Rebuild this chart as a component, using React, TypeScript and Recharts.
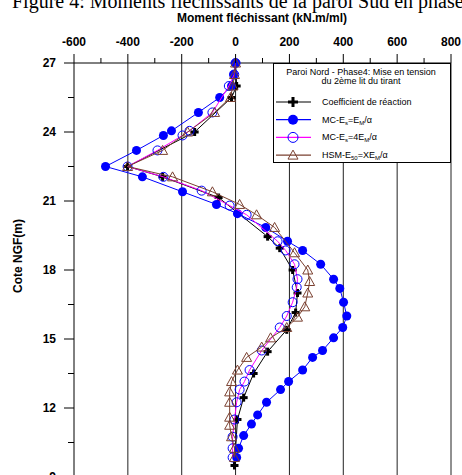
import { Legend, ReferenceLine, Scatter, ScatterChart, XAxis, YAxis } from "recharts";

// axis ticks (minor every 100 / 1.5 m, labelled every 200 / 3 m)
const xTicks = [-600, -500, -400, -300, -200, -100, 0, 100, 200, 300, 400, 500, 600, 700, 800];
const yTicks = [9, 10.5, 12, 13.5, 15, 16.5, 18, 19.5, 21, 22.5, 24, 25.5, 27];
const gridX = [-400, -200, 0, 200, 400, 600, 800];

// moment (kN.m/ml) vs elevation (m NGF)
const coeffReaction = [
  { m: 0, z: 27 }, { m: 4, z: 26 }, { m: -15, z: 25.5 }, { m: -152, z: 24.0 },
  { m: -401, z: 22.5 }, { m: -271, z: 22.05 }, { m: -63, z: 21.15 }, { m: 119, z: 19.45 },
  { m: 164, z: 18.95 }, { m: 212, z: 18.0 }, { m: 230, z: 17.0 }, { m: 223, z: 16.15 },
  { m: 190, z: 15.4 }, { m: 119, z: 14.45 }, { m: 67, z: 13.5 }, { m: 30, z: 12.45 },
  { m: 7, z: 11.5 }, { m: -4, z: 9.5 },
];

const mcEm = [
  { m: 0, z: 27 }, { m: -7, z: 26.5 }, { m: -15, z: 26.0 }, { m: -59, z: 25.5 },
  { m: -138, z: 24.85 }, { m: -238, z: 24.05 }, { m: -268, z: 23.85 }, { m: -368, z: 23.2 },
  { m: -483, z: 22.5 }, { m: -346, z: 22.05 }, { m: -197, z: 21.4 }, { m: -71, z: 20.85 },
  { m: 7, z: 20.45 }, { m: 112, z: 19.85 }, { m: 193, z: 19.25 }, { m: 249, z: 18.85 },
  { m: 316, z: 18.25 }, { m: 364, z: 17.6 }, { m: 387, z: 17.2 }, { m: 401, z: 16.6 },
  { m: 413, z: 16.0 }, { m: 398, z: 15.5 }, { m: 364, z: 15.05 }, { m: 323, z: 14.5 },
  { m: 286, z: 14.2 }, { m: 249, z: 13.65 }, { m: 197, z: 13.15 }, { m: 167, z: 12.8 },
  { m: 115, z: 12.25 }, { m: 82, z: 11.7 }, { m: 59, z: 11.3 }, { m: 30, z: 10.8 },
  { m: 11, z: 10.25 }, { m: 4, z: 9.85 },
];

const mc4Em = [
  { m: 0, z: 27 }, { m: -5, z: 26.5 }, { m: -25, z: 26.0 }, { m: -86, z: 24.85 },
  { m: -171, z: 24.05 }, { m: -197, z: 23.85 }, { m: -290, z: 23.2 }, { m: -401, z: 22.5 },
  { m: -268, z: 22.05 }, { m: -126, z: 21.45 }, { m: -22, z: 20.8 }, { m: 41, z: 20.4 },
  { m: 156, z: 19.25 }, { m: 186, z: 18.85 }, { m: 219, z: 18.25 }, { m: 230, z: 17.6 },
  { m: 227, z: 17.25 }, { m: 212, z: 16.6 }, { m: 190, z: 16.0 }, { m: 164, z: 15.5 },
  { m: 97, z: 14.5 }, { m: 52, z: 13.65 }, { m: 33, z: 13.15 }, { m: 15, z: 12.8 },
  { m: 4, z: 12.25 }, { m: -4, z: 11.5 }, { m: -11, z: 10.75 }, { m: -11, z: 10.25 },
  { m: -11, z: 9.85 },
];

const hsm = [
  { m: 0, z: 27 }, { m: -4, z: 26.5 }, { m: -10, z: 26.0 }, { m: -19, z: 25.5 },
  { m: -78, z: 24.85 }, { m: -178, z: 24.0 }, { m: -271, z: 23.2 }, { m: -401, z: 22.5 },
  { m: -234, z: 22.05 }, { m: -86, z: 21.4 }, { m: 15, z: 20.85 }, { m: 78, z: 20.4 },
  { m: 145, z: 19.85 }, { m: 219, z: 18.75 }, { m: 268, z: 18.0 }, { m: 275, z: 17.5 },
  { m: 268, z: 17.0 }, { m: 257, z: 16.4 }, { m: 230, z: 15.95 }, { m: 190, z: 15.5 },
  { m: 130, z: 15.05 }, { m: 97, z: 14.65 }, { m: 41, z: 14.2 }, { m: 7, z: 13.65 },
  { m: -15, z: 13.15 }, { m: -22, z: 12.7 }, { m: -22, z: 12.25 }, { m: -22, z: 11.6 },
  { m: -22, z: 11.25 }, { m: -15, z: 10.75 }, { m: -4, z: 10.25 }, { m: -4, z: 9.85 },
];

const BLUE = "#0000ff";
const MAGENTA = "#ff00ff";
const BROWN = "#7a4030";
const FONT = '"Liberation Sans", Arial, sans-serif';

const X_TICK_SIZE = 9;
const X_TICK_MARGIN = 4;
const Y_TICK_SIZE = 10;
const Y_TICK_MARGIN = 8;

function XTick(props: any) {
  const { x, y, payload } = props;
  const axisY = y + X_TICK_SIZE + X_TICK_MARGIN;
  const major = payload.value % 200 === 0;
  return (
    <g>
      <line x1={x} x2={x} y1={axisY} y2={axisY - (major ? X_TICK_SIZE : 5)} stroke="#000" />
      {major && (
        <text x={x} y={axisY - 17} textAnchor="middle" fontSize={12} fontWeight="bold" fontFamily={FONT} fill="#000">
          {payload.value}
        </text>
      )}
    </g>
  );
}

function YTick(props: any) {
  const { x, y, payload } = props;
  const axisX = x + Y_TICK_SIZE + Y_TICK_MARGIN;
  const major = payload.value % 3 === 0;
  return (
    <g>
      <line x1={axisX} x2={axisX - (major ? Y_TICK_SIZE : 6)} y1={y} y2={y} stroke="#000" />
      {major && (
        <text x={x} y={y + 4} textAnchor="end" fontSize={12} fontWeight="bold" fontFamily={FONT} fill="#000">
          {payload.value}
        </text>
      )}
    </g>
  );
}

const Plus = ({ cx, cy, s = 4 }: any) => (
  <g fill="#000">
    <rect x={cx - s} y={cy - 1.5} width={s * 2} height={3} />
    <rect x={cx - 1.5} y={cy - s} width={3} height={s * 2} />
  </g>
);
const Dot = ({ cx, cy, r = 4.5 }: any) => <circle cx={cx} cy={cy} r={r} fill={BLUE} />;
const Ring = ({ cx, cy, r = 4.5 }: any) => (
  <circle cx={cx} cy={cy} r={r} fill="none" stroke={BLUE} strokeWidth={1} />
);
const Tri = ({ cx, cy, s = 5 }: any) => (
  <polygon
    points={`${cx},${cy - s} ${cx - s},${cy + s * 0.8} ${cx + s},${cy + s * 0.8}`}
    fill="none"
    stroke={BROWN}
    strokeWidth={1}
  />
);

const legendRows = [
  { color: "#000", Mark: Plus, label: [["Coefficient de réaction", false]] },
  { color: BLUE, Mark: Dot, label: [["MC-E", false], ["s", true], ["=E", false], ["M", true], ["/α", false]] },
  { color: MAGENTA, Mark: Ring, label: [["MC-E", false], ["s", true], ["=4E", false], ["M", true], ["/α", false]] },
  { color: BROWN, Mark: Tri, label: [["HSM-E", false], ["50", true], ["=XE", false], ["M", true], ["/α", false]] },
];

function LegendBox() {
  return (
    <svg width={178} height={100} style={{ display: "block" }}>
      <rect x={0.5} y={0.5} width={177} height={99} fill="#fff" stroke="#000" />
      <text x={88} y={12} textAnchor="middle" fontSize={9} fontFamily={FONT} fill="#000">
        Paroi Nord - Phase4: Mise en tension
      </text>
      <text x={88} y={21} textAnchor="middle" fontSize={9} fontFamily={FONT} fill="#000">
        du 2ème lit du tirant
      </text>
      {legendRows.map((row, i) => {
        const cy = 39 + i * 17.7;
        return (
          <g key={i}>
            <line x1={3} x2={38} y1={cy} y2={cy} stroke={row.color} strokeWidth={1.2} />
            <row.Mark cx={20} cy={cy} s={5} r={5} />
            <text x={49} y={cy + 3} fontSize={9} fontFamily={FONT} fill="#000">
              {row.label.map(([t, sub], j) => (
                <tspan key={j} fontSize={sub ? 6 : 9} dy={j === 0 ? 0 : sub ? 2 : -2}>
                  {t as string}
                </tspan>
              ))}
            </text>
          </g>
        );
      })}
    </svg>
  );
}

export default function App() {
  return (
    <div
      style={{
        position: "absolute",
        left: 0,
        top: 0,
        width: 462,
        height: 475,
        overflow: "hidden",
        background: "#fff",
      }}
    >
      <div
        style={{
          position: "absolute",
          left: 12,
          top: -9,
          fontFamily: '"Liberation Serif", "Times New Roman", serif',
          fontSize: 20,
          lineHeight: "20px",
          whiteSpace: "nowrap",
          color: "#000",
        }}
      >
        Figure 4: Moments fléchissants de la paroi Sud en phase
      </div>
      <div
        style={{
          position: "absolute",
          left: 262,
          top: 11,
          transform: "translateX(-50%)",
          fontFamily: FONT,
          fontSize: 12,
          fontWeight: "bold",
          whiteSpace: "nowrap",
          lineHeight: "14px",
        }}
      >
        Moment fléchissant (kN.m/ml)
      </div>
      <div
        style={{
          position: "absolute",
          left: 18,
          top: 256,
          transform: "translate(-50%, -50%) rotate(-90deg)",
          fontFamily: FONT,
          fontSize: 12,
          fontWeight: "bold",
          whiteSpace: "nowrap",
          lineHeight: "14px",
        }}
      >
        Cote NGF(m)
      </div>
      <div style={{ position: "absolute", left: 0, top: 0 }}>
        <ScatterChart width={462} height={490} margin={{ top: 33, right: 11, bottom: 13, left: 0 }}>
          <XAxis
            type="number"
            dataKey="m"
            orientation="top"
            domain={[-600, 800]}
            ticks={xTicks}
            interval={0}
            height={30}
            tickSize={X_TICK_SIZE}
            tickMargin={X_TICK_MARGIN}
            tickLine={false}
            tick={<XTick />}
            axisLine={{ stroke: "#000" }}
          />
          <YAxis
            type="number"
            dataKey="z"
            domain={[9, 27]}
            ticks={yTicks}
            interval={0}
            width={74}
            tickSize={Y_TICK_SIZE}
            tickMargin={Y_TICK_MARGIN}
            tickLine={false}
            tick={<YTick />}
            axisLine={{ stroke: "#000" }}
          />
          {gridX.map((v) => (
            <ReferenceLine key={v} x={v} stroke="#222" strokeWidth={1} />
          ))}
          <Scatter
            name="coef"
            data={coeffReaction}
            line={{ stroke: "#000", strokeWidth: 1 }}
            lineType="joint"
            shape={(p: any) => <Plus cx={p.cx} cy={p.cy} />}
            isAnimationActive={false}
          />
          <Scatter
            name="mcEm"
            data={mcEm}
            line={{ stroke: BLUE, strokeWidth: 1 }}
            lineType="joint"
            shape={(p: any) => <Dot cx={p.cx} cy={p.cy} />}
            isAnimationActive={false}
          />
          <Scatter
            name="mc4Em"
            data={mc4Em}
            line={{ stroke: MAGENTA, strokeWidth: 1 }}
            lineType="joint"
            shape={(p: any) => <Ring cx={p.cx} cy={p.cy} />}
            isAnimationActive={false}
          />
          <Scatter
            name="hsm"
            data={hsm}
            line={{ stroke: BROWN, strokeWidth: 1 }}
            lineType="joint"
            shape={(p: any) => <Tri cx={p.cx} cy={p.cy} />}
            isAnimationActive={false}
          />
          <Legend
            layout="vertical"
            align="center"
            verticalAlign="middle"
            content={() => <LegendBox />}
            wrapperStyle={{ left: 273, top: 63, width: 178, height: 100 }}
          />
        </ScatterChart>
      </div>
    </div>
  );
}
